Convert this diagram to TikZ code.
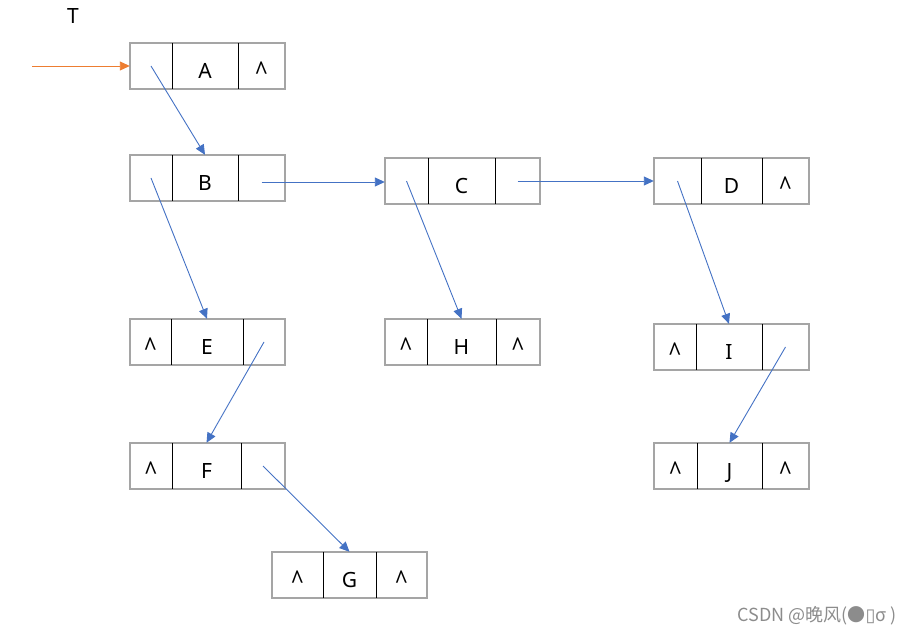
\documentclass[tikz,border=0pt]{standalone}
\usepackage{fontspec}
\setmainfont{Noto Sans}
\newfontfamily\cjk{Noto Sans CJK SC}
\newfontfamily\symfont{DejaVu Sans}
\usetikzlibrary{arrows.meta}
\definecolor{linkblue}{HTML}{4472C4}
\definecolor{headorange}{HTML}{ED7D31}
\definecolor{boxgray}{HTML}{A5A5A5}
\tikzset{
    cell/.style={inner sep=0pt,minimum height=46pt,font=\fontsize{21}{22}\selectfont},
    link/.style={linkblue,line width=0.9pt,-{Triangle[length=10pt,width=9pt]}},
}
\newcommand{\Nil}{\raisebox{-3pt}{\scalebox{1.05}[1.3]{\textasciicircum}}}
\newcommand{\BiNode}[8]{%
    \node[cell,minimum width={#4-#2}] (#1-l) at ({(#2+#4)/2},{#3+23}) {\raisebox{-12.5pt}[0pt][0pt]{#6}};
    \node[cell,minimum width={#5-#4}] (#1-d) at ({(#4+#5)/2},{#3+23}) {\raisebox{-12.5pt}[0pt][0pt]{#7}};
    \node[cell,minimum width={#2+155-#5}] (#1-r) at ({(#5+#2+155)/2},{#3+23}) {\raisebox{-12.5pt}[0pt][0pt]{#8}};
    \draw[boxgray,line width=1.6pt] (#1-l.north west) rectangle (#1-r.south east);
    \draw (#1-d.north west) -- (#1-d.south west);
    \draw (#1-d.north east) -- (#1-d.south east);
}

\begin{document}
\begin{tikzpicture}[x=1pt,y=-1pt]
        \useasboundingbox (0,0) rectangle (915,636);
        \node[font=\fontsize{21}{22}\selectfont] (T) at (73,16) {T};
        \coordinate (start) at (32,66);
        \BiNode{A}{130}{43}{172}{238}{}{A}{\Nil}
        \BiNode{B}{130}{155}{172}{238}{}{B}{}
        \BiNode{C}{385}{158}{428}{495}{}{C}{}
        \BiNode{D}{654}{158}{701}{762}{}{D}{\Nil}
        \BiNode{E}{130}{319}{171}{243}{\Nil}{E}{}
        \BiNode{H}{385}{319}{427}{496}{\Nil}{H}{\Nil}
        \BiNode{I}{654}{324}{696}{762}{\Nil}{I}{}
        \BiNode{F}{130}{443}{172}{241}{\Nil}{F}{}
        \BiNode{J}{654}{443}{697}{762}{\Nil}{J}{\Nil}
        \BiNode{G}{272}{552}{323}{376}{\Nil}{G}{\Nil}
        \draw[headorange,line width=0.9pt,-{Triangle[length=10pt,width=9pt]}] (start) -- (A-l.west);
        \draw[link] (A-l.center) -- (B-d.north);
        \draw[link] ([yshift=-4pt]B-r.center) -- ([yshift=-4pt]B-r.center -| C-l.west);
        \draw[link] (C-r.center) -- (C-r.center -| D-l.west);
        \draw[link] (B-l.center) -- (E-d.north);
        \draw[link] (C-l.center) -- (H-d.north);
        \draw[link] (D-l.center) -- (I-d.north);
        \draw[link] (E-r.center) -- (F-d.north);
        \draw[link] (F-r.center) -- (G-d.north);
        \draw[link] (I-r.center) -- (J-d.north);
        \node[font=\cjk\fontsize{18}{20}\selectfont,text=black!45] (mark) at (817,616) {CSDN @晚风(●{\symfont ▯}σ )};
    \end{tikzpicture}
\end{document}
